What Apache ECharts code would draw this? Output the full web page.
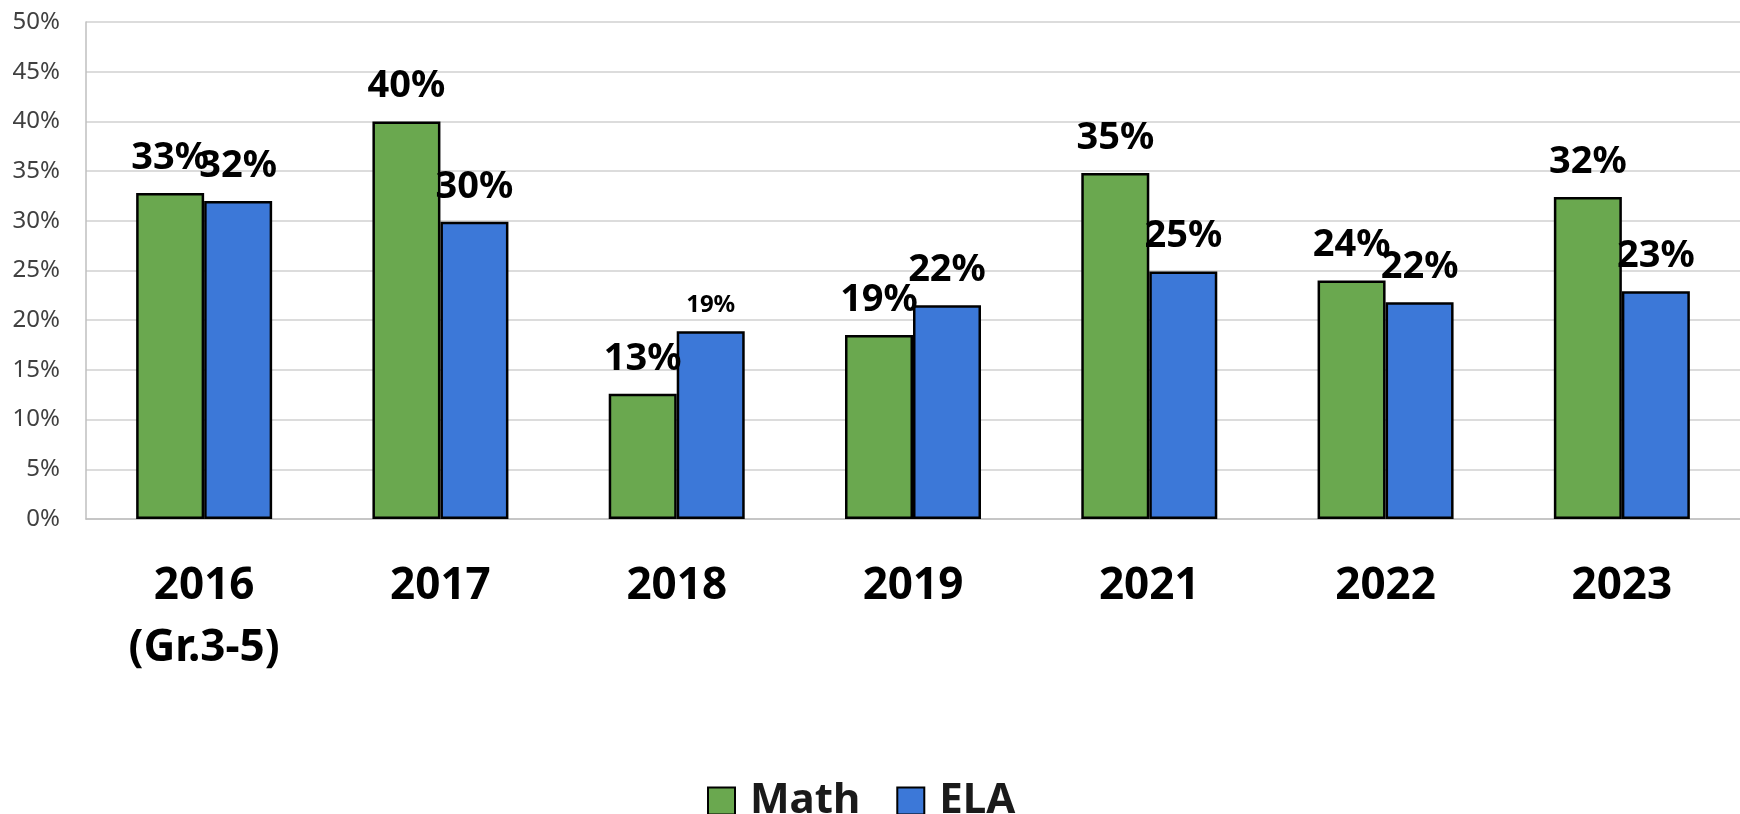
<!DOCTYPE html>
<html>
<head>
<meta charset="utf-8">
<script src="https://cdn.jsdelivr.net/npm/echarts@6/dist/echarts.min.js"></script>
<style>
    html, body { margin: 0; padding: 0; background: #fff; }
    #chart { width: 1740px; height: 814px; }
</style>
</head>
<body>
<div id="chart"></div>
<script>
const years = ["2016\n(Gr.3-5)", "2017", "2018", "2019", "2021", "2022", "2023"]
const mathValues = [32.8, 40.0, 12.6, 18.5, 34.8, 24.0, 32.4]
const elaValues = [32.0, 29.9, 18.9, 21.5, 24.9, 21.8, 22.9]
const yTicks = { min: 0, max: 50, step: 5 }

// the 2018 ELA label is drawn smaller in the original
const smallElaLabelIndex = 2

const font = "Noto Sans"
const green = "#6aa84f"
const blue = "#3c78d8"

const pct = (p) => Math.round(p.value) + "%"

const bigLabel = {
    show: true,
    position: "top",
    distance: 16,
    fontFamily: font,
    fontSize: 38,
    fontWeight: "bold",
    color: "#000",
    formatter: pct,
}

const chart = echarts.init(document.getElementById("chart"))

chart.setOption({
    animation: false,
    textStyle: { fontFamily: font },
    grid: {
        left: 86,
        top: 22,
        width: 1657,
        height: 497,
        containLabel: false,
    },
    legend: {
        left: 702,
        top: 775,
        itemWidth: 27,
        itemHeight: 27,
        itemGap: 36,
        icon: "rect",
        textStyle: {
            fontFamily: font,
            fontSize: 42,
            fontWeight: "bold",
            color: "#1a1a1a",
            padding: [0, 0, 0, 10],
        },
        data: ["Math", "ELA"],
    },
    xAxis: {
        type: "category",
        data: years,
        axisTick: { show: false },
        axisLine: { lineStyle: { color: "#bfbfbf", width: 1.5 } },
        axisLabel: {
            margin: 36,
            fontFamily: font,
            fontSize: 44,
            fontWeight: "bold",
            lineHeight: 62,
            color: "#000",
        },
    },
    yAxis: {
        type: "value",
        min: yTicks.min,
        max: yTicks.max,
        interval: yTicks.step,
        axisLine: { show: true, lineStyle: { color: "#bfbfbf", width: 1.5 } },
        axisTick: { show: false },
        splitLine: { lineStyle: { color: "#d0d0d0", width: 1.5 } },
        axisLabel: {
            margin: 26,
            fontFamily: font,
            fontSize: 24,
            color: "#404040",
            formatter: "{value}%",
        },
    },
    series: [
        {
            name: "Math",
            type: "bar",
            barWidth: 68,
            barGap: "0%",
            data: mathValues,
            itemStyle: { color: green, borderColor: "#000", borderWidth: 2.5 },
            label: bigLabel,
        },
        {
            name: "ELA",
            type: "bar",
            barWidth: 68,
            data: elaValues.map((v, i) =>
                i === smallElaLabelIndex
                    ? { value: v, label: { fontSize: 24, distance: 14 } }
                    : v
            ),
            itemStyle: { color: blue, borderColor: "#000", borderWidth: 2.5 },
            label: bigLabel,
        },
    ],
})
</script>
</body>
</html>
